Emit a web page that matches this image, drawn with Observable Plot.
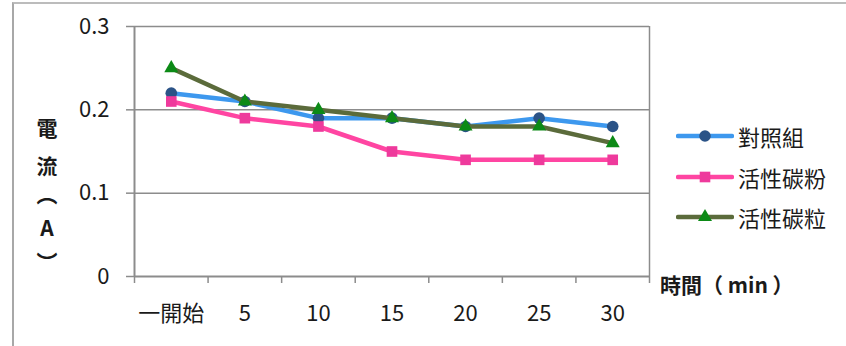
<!DOCTYPE html>
<html>
<head>
<meta charset="utf-8">
<script src="https://cdn.jsdelivr.net/npm/d3@7"></script>
<script src="https://cdn.jsdelivr.net/npm/@observablehq/plot@0.6"></script>
<style>
  html, body { margin: 0; padding: 0; background: #fff; }
  #wrap { position: relative; width: 846px; height: 346px; overflow: hidden;
    font-family: "Noto Sans CJK TC", "Noto Sans", sans-serif; color: #1a1a1a; }
  #border { position: absolute; left: 12px; top: 2px; width: 900px; height: 400px;
    border-left: 2px solid #a8a8a8; border-top: 2px solid #bcbcbc; }
  #chart { position: absolute; left: 0; top: 0; }
  .ytitle { position: absolute; left: 36px; width: 22px; text-align: center; font-size: 21px; font-weight: bold; white-space: pre; }
  #yt1 { top: 108px; line-height: 38px; }
  #yt2 { top: 176px; line-height: 34px; }
  #xtitle { position: absolute; left: 660px; top: 269px; font-size: 21px; font-weight: bold; white-space: pre; }
  #legend { position: absolute; left: 676px; top: 116px; }
  .row { position: absolute; left: 0; height: 40px; display: flex; align-items: center; white-space: nowrap; font-size: 22px; }
  .row svg { margin-right: 4px; }
</style>
</head>
<body>
<div id="wrap">
  <div id="border"></div>
  <div id="chart"></div>
  <div class="ytitle" id="yt1"></div>
  <div class="ytitle" id="yt2"></div>
  <div id="xtitle"></div>
  <div id="legend"></div>
</div>
<script>
const categories = ["一開始", "5", "10", "15", "20", "25", "30"];
const seriesNames = ["對照組", "活性碳粉", "活性碳粒"];
const controlValues = [0.22, 0.21, 0.19, 0.19, 0.18, 0.19, 0.18];
const powderValues  = [0.21, 0.19, 0.18, 0.15, 0.14, 0.14, 0.14];
const granuleValues = [0.25, 0.21, 0.20, 0.19, 0.18, 0.18, 0.16];
const yTicks = [0, 0.1, 0.2, 0.3];
const yTitleTop = "電\n流";
const yTitleBottom = "︵\nA\n︶";
const xTitle = "時間（ min ）";

const styles = [
  {line: "#3d98ee", marker: "#2b5387", symbol: "circle", r: 5.8},
  {line: "#ff45a2", marker: "#ee3a9c", symbol: "square", r: 6},
  {line: "#5b6b3b", marker: "#0c8a16", symbol: "triangle", r: 5.2}
];
const allValues = [controlValues, powderValues, granuleValues];
const series = seriesNames.map((name, s) =>
  allValues[s].map((v, i) => ({pos: i + 0.5, cat: categories[i], value: v, series: name})));

const gray = "#8c8c8c";
const marks = [
  Plot.gridY(yTicks.filter(d => d > 0), {stroke: gray, strokeOpacity: 1, strokeWidth: 1.5}),
  Plot.ruleX([7], {stroke: gray, strokeWidth: 1.5}),
  Plot.axisY({ticks: yTicks, tickFormat: d => d === 0 ? "0" : d.toFixed(1), tickSize: 8, tickPadding: 17,
    stroke: gray, strokeWidth: 1.5, label: null, fontSize: 22}),
  Plot.axisX({ticks: d3.range(categories.length + 1), tickFormat: () => "", tickSize: 7,
    stroke: gray, strokeWidth: 1.5, label: null}),
  Plot.axisX({ticks: categories.map((d, i) => i + 0.5), tickFormat: d => categories[Math.floor(d)],
    tickSize: 0, tickPadding: 29, label: null, fontSize: 22}),
  Plot.ruleX([0], {stroke: gray, strokeWidth: 2}),
  Plot.ruleY([0], {stroke: gray, strokeWidth: 2})
];
series.forEach((data, s) => {
  const st = styles[s];
  marks.push(Plot.line(data, {x: "pos", y: "value", stroke: st.line, strokeWidth: 4.5, strokeLinejoin: "round"}));
  marks.push(Plot.dot(data, {x: "pos", y: "value", symbol: st.symbol, r: st.r, fill: st.marker, stroke: "none"}));
});

const chart = Plot.plot({
  width: 846, height: 346,
  marginLeft: 134, marginRight: 197, marginTop: 26, marginBottom: 70,
  x: {type: "linear", domain: [0, categories.length]},
  y: {domain: [0, 0.3]},
  style: {fontFamily: "'Noto Sans CJK TC', 'Noto Sans', sans-serif", fontSize: "22px", color: "#1a1a1a", background: "transparent", overflow: "visible"},
  marks
});
document.getElementById("chart").appendChild(chart);

document.getElementById("yt1").textContent = yTitleTop;
document.getElementById("yt2").textContent = yTitleBottom;
document.getElementById("xtitle").textContent = xTitle;

// Legend
const leg = document.getElementById("legend");
seriesNames.forEach((name, s) => {
  const st = styles[s];
  const row = document.createElement("div");
  row.className = "row";
  row.style.top = (s * 40.5) + "px";
  const sym = d3.symbol(st.symbol === "circle" ? d3.symbolCircle : st.symbol === "square" ? d3.symbolSquare : d3.symbolTriangle,
    Math.PI * st.r * st.r)();
  row.innerHTML = `<svg width="58" height="20"><line x1="2" y1="10" x2="56" y2="10" stroke="${st.line}" stroke-width="4.5" stroke-linecap="round"/>` +
    `<path d="${sym}" transform="translate(29,10)" fill="${st.marker}"/></svg><span>${name}</span>`;
  leg.appendChild(row);
});
</script>
</body>
</html>
